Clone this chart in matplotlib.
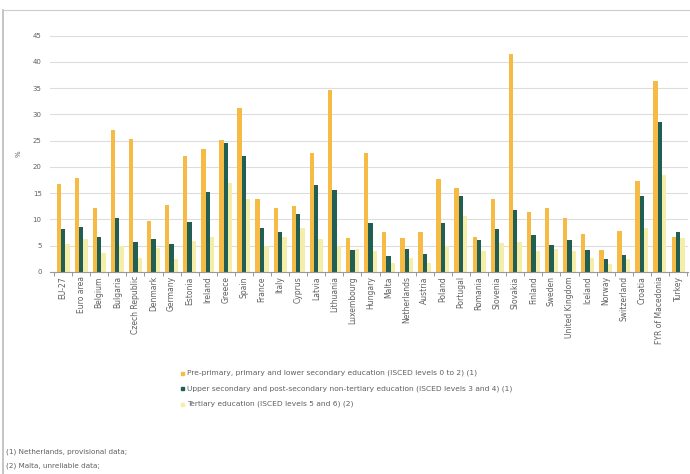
import numpy as np
import matplotlib

matplotlib.use("Agg")
import matplotlib.pyplot as plt
from matplotlib.patches import Rectangle
from matplotlib.lines import Line2D

COUNTRIES = [
    "EU-27", "Euro area", "Belgium", "Bulgaria", "Czech Republic", "Denmark",
    "Germany", "Estonia", "Ireland", "Greece", "Spain", "France", "Italy",
    "Cyprus", "Latvia", "Lithuania", "Luxembourg", "Hungary", "Malta",
    "Netherlands", "Austria", "Poland", "Portugal", "Romania", "Slovenia",
    "Slovakia", "Finland", "Sweden", "United Kingdom", "Iceland", "Norway",
    "Switzerland", "Croatia", "FYR of Macedonia", "Turkey",
]
LOWER = [
    16.8, 17.9, 12.2, 27.1, 25.4, 9.7, 12.7, 22.0, 23.4, 25.1, 31.2, 13.8, 12.1,
    12.5, 22.7, 34.6, 6.4, 22.7, 7.7, 6.5, 7.7, 17.7, 16.0, 6.7, 13.8,
    41.5, 11.5, 12.2, 10.3, 7.2, 4.1, 7.8, 17.4, 36.3, 6.7,
]
UPPER = [
    8.2, 8.6, 6.7, 10.2, 5.7, 6.3, 5.3, 9.5, 15.3, 24.6, 22.0, 8.3, 7.7,
    11.1, 16.6, 15.6, 4.2, 9.4, 3.0, 4.4, 3.5, 9.4, 14.4, 6.0, 8.1,
    11.8, 7.1, 5.1, 6.0, 4.2, 2.4, 3.3, 14.4, 28.5, 7.7,
]
TERTIARY = [
    5.4, 6.2, 3.7, 4.9, 2.7, 4.6, 2.4, 5.9, 6.7, 17.0, 13.8, 4.9, 6.7,
    8.4, 6.2, 4.9, 4.3, 4.0, 1.8, 2.7, 1.8, 4.9, 10.6, 4.0, 5.6,
    5.7, 4.0, 4.3, 4.0, 2.7, 1.5, 2.4, 8.4, 18.5, 6.5,
]
LABELS = [
    "Pre-primary, primary and lower secondary education (ISCED levels 0 to 2) (1)",
    "Upper secondary and post-secondary non-tertiary education (ISCED levels 3 and 4) (1)",
    "Tertiary education (ISCED levels 5 and 6) (2)",
]
NOTES = ["(1) Netherlands, provisional data;", "(2) Malta, unreliable data;"]

ORANGE, TEAL, YELLOW = "#f5bb45", "#215f55", "#f5eea8"
GRID, TXT = "#dddddd", "#606060"

W, H = 690, 474
fig = plt.figure(figsize=(6.9, 4.74), dpi=100, facecolor="white")
ax = fig.add_axes([50 / W, 1 - 272 / H, 638 / W, (272 - 35.5) / H])

x = np.arange(len(COUNTRIES))
bw = 0.24
for k, (vals, col) in enumerate(zip([LOWER, UPPER, TERTIARY], [ORANGE, TEAL, YELLOW])):
    ax.bar(x + (k - 1) * bw, vals, width=bw, color=col, zorder=2)

ax.set_ylim(0, 45)
ax.set_xlim(-0.72, len(COUNTRIES) - 0.45)
ax.set_yticks(np.arange(0, 46, 5))
ax.yaxis.grid(True, color=GRID, lw=0.8, zorder=0)
ax.tick_params(axis="y", length=0, labelsize=5, labelcolor=TXT, pad=6)
ax.set_xticks(x)
ax.set_xticklabels(COUNTRIES, rotation=90, fontsize=5.5, color=TXT)
ax.set_xticks(np.arange(-0.5, len(COUNTRIES)), minor=True)
ax.tick_params(axis="x", which="major", length=0, pad=3)
ax.tick_params(axis="x", which="minor", length=3, color="#888888", direction="out")
for s in ("top", "right", "left"):
    ax.spines[s].set_visible(False)
ax.spines["bottom"].set_color("#999999")
ax.set_ylabel("%", fontsize=5, color=TXT, labelpad=8)

# legend, drawn by hand below the axis
for k, (lab, col) in enumerate(zip(LABELS, [ORANGE, TEAL, YELLOW])):
    yy = 1 - (373 + k * 15.5) / H
    fig.add_artist(Rectangle((181 / W, yy - 1.5 / H), 3 / W, 3 / H,
                             transform=fig.transFigure, color=col))
    fig.text(187 / W, yy, lab, fontsize=5.4, color=TXT, va="center")

for k, note in enumerate(NOTES):
    fig.text(6 / W, 1 - (452 + k * 14) / H, note, fontsize=5.2, color=TXT, va="center")

# outer frame
fig.add_artist(Line2D([3 / W, 3 / W], [0, 1 - 10 / H], transform=fig.transFigure,
                      color="#bbbbbb", lw=1.2))
fig.add_artist(Line2D([3 / W, 1], [1 - 10 / H, 1 - 10 / H], transform=fig.transFigure,
                      color="#cccccc", lw=0.8))

fig.savefig("out.png", dpi=100, facecolor="white")
